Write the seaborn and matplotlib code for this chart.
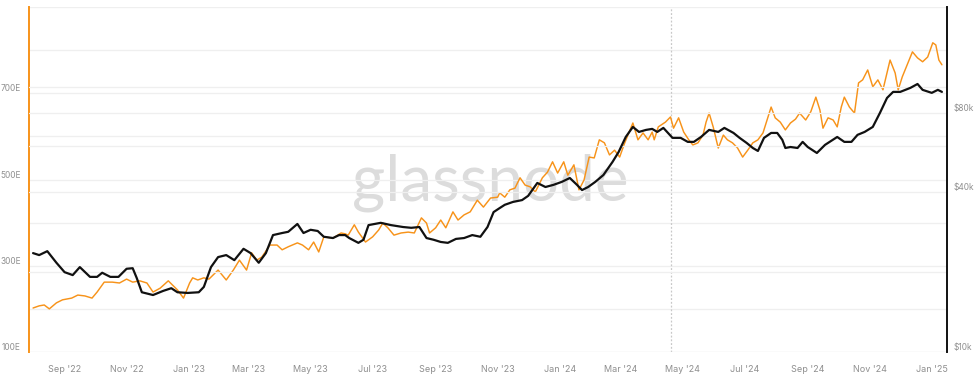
import matplotlib
matplotlib.use("Agg")
import matplotlib.pyplot as plt
import matplotlib.ticker as mticker
import seaborn as sns
import pandas as pd

# ---------------- data ----------------
hash_dates = [
    "2022-08-01", "2022-08-07", "2022-08-12", "2022-08-17", "2022-08-24", "2022-08-30",
    "2022-09-08", "2022-09-14", "2022-09-21", "2022-09-28", "2022-10-03", "2022-10-10",
    "2022-10-18", "2022-10-25", "2022-11-01", "2022-11-07", "2022-11-14", "2022-11-21",
    "2022-11-27", "2022-12-04", "2022-12-12", "2022-12-21", "2022-12-27", "2023-01-02",
    "2023-01-05", "2023-01-10", "2023-01-16", "2023-01-21", "2023-01-30", "2023-02-07",
    "2023-02-14", "2023-02-20", "2023-02-27", "2023-03-04", "2023-03-09", "2023-03-14",
    "2023-03-22", "2023-03-29", "2023-04-03", "2023-04-09", "2023-04-18", "2023-04-23",
    "2023-04-29", "2023-05-04", "2023-05-09", "2023-05-14", "2023-05-23", "2023-05-31",
    "2023-06-04", "2023-06-07", "2023-06-13", "2023-06-17", "2023-06-24", "2023-07-01",
    "2023-07-07", "2023-07-11", "2023-07-16", "2023-07-22", "2023-07-29", "2023-08-05",
    "2023-08-11", "2023-08-18", "2023-08-23", "2023-08-26", "2023-09-01", "2023-09-06",
    "2023-09-11", "2023-09-18", "2023-09-23", "2023-09-29", "2023-10-05", "2023-10-12",
    "2023-10-18", "2023-10-25", "2023-11-01", "2023-11-03", "2023-11-08", "2023-11-13",
    "2023-11-18", "2023-11-23", "2023-11-28", "2023-12-03", "2023-12-08", "2023-12-15",
    "2023-12-20", "2023-12-25", "2023-12-30", "2024-01-05", "2024-01-09", "2024-01-15",
    "2024-01-20", "2024-01-25", "2024-01-30", "2024-02-04", "2024-02-09", "2024-02-14",
    "2024-02-19", "2024-02-24", "2024-02-29", "2024-03-05", "2024-03-09", "2024-03-13",
    "2024-03-18", "2024-03-23", "2024-03-28", "2024-04-01", "2024-04-03", "2024-04-07",
    "2024-04-14", "2024-04-19", "2024-04-22", "2024-04-27", "2024-05-02", "2024-05-07",
    "2024-05-11", "2024-05-16", "2024-05-21", "2024-05-24", "2024-05-27", "2024-05-31",
    "2024-06-05", "2024-06-10", "2024-06-14", "2024-06-19", "2024-06-24", "2024-06-29",
    "2024-07-04", "2024-07-09", "2024-07-14", "2024-07-19", "2024-07-24", "2024-07-27",
    "2024-07-31", "2024-08-05", "2024-08-10", "2024-08-15", "2024-08-20", "2024-08-24",
    "2024-08-30", "2024-09-04", "2024-09-09", "2024-09-13", "2024-09-16", "2024-09-21",
    "2024-09-26", "2024-09-30", "2024-10-04", "2024-10-07", "2024-10-12", "2024-10-17",
    "2024-10-21", "2024-10-25", "2024-10-30", "2024-11-04", "2024-11-09", "2024-11-14",
    "2024-11-21", "2024-11-26", "2024-11-29", "2024-12-03", "2024-12-07", "2024-12-13",
    "2024-12-18", "2024-12-23", "2024-12-28", "2025-01-02", "2025-01-05", "2025-01-08",
    "2025-01-11",
]
hash_values = [
    202, 207, 209, 200, 214, 221,
    225, 232, 230, 225, 239, 262,
    262, 260, 269, 262, 265, 260,
    239, 248, 265, 244, 225, 260,
    272, 267, 272, 269, 290, 267,
    290, 313, 290, 330, 313, 320,
    348, 348, 337, 344, 353, 348,
    337, 355, 332, 367, 364, 376,
    374, 371, 395, 378, 355, 367,
    383, 399, 388, 371, 376, 378,
    376, 411, 399, 376, 388, 406,
    388, 425, 406, 418, 425, 452,
    436, 457, 459, 469, 459, 476,
    480, 504, 487, 483, 471, 504,
    517, 541, 515, 541, 510, 534,
    476, 499, 552, 550, 592, 585,
    557, 568, 552, 585, 608, 631,
    592, 608, 592, 610, 592, 622,
    633, 645, 619, 643, 610, 592,
    580, 585, 603, 633, 654, 622,
    573, 603, 592, 585, 573, 552,
    568, 585, 592, 608, 645, 668,
    643, 633, 615, 631, 640, 654,
    638, 657, 691, 661, 619, 643,
    638, 622, 668, 691, 668, 654,
    724, 731, 754, 715, 731, 708,
    777, 747, 708, 738, 761, 796,
    782, 773, 784, 817, 812, 777,
    766,
]

price_dates = [
    "2022-08-01", "2022-08-07", "2022-08-15", "2022-08-24", "2022-09-01", "2022-09-09",
    "2022-09-16", "2022-09-26", "2022-10-03", "2022-10-08", "2022-10-16", "2022-10-24",
    "2022-11-01", "2022-11-07", "2022-11-11", "2022-11-16", "2022-11-27", "2022-12-07",
    "2022-12-15", "2022-12-21", "2022-12-31", "2023-01-11", "2023-01-16", "2023-01-23",
    "2023-01-30", "2023-02-07", "2023-02-15", "2023-02-24", "2023-03-03", "2023-03-11",
    "2023-03-18", "2023-03-25", "2023-04-03", "2023-04-09", "2023-04-18", "2023-04-24",
    "2023-05-01", "2023-05-08", "2023-05-14", "2023-05-23", "2023-05-29", "2023-06-04",
    "2023-06-08", "2023-06-17", "2023-06-22", "2023-06-27", "2023-07-09", "2023-07-19",
    "2023-07-31", "2023-08-08", "2023-08-16", "2023-08-23", "2023-08-30", "2023-09-06",
    "2023-09-13", "2023-09-21", "2023-09-29", "2023-10-07", "2023-10-15", "2023-10-22",
    "2023-10-28", "2023-11-03", "2023-11-08", "2023-11-16", "2023-11-25", "2023-12-01",
    "2023-12-10", "2023-12-18", "2023-12-26", "2024-01-03", "2024-01-11", "2024-01-18",
    "2024-01-23", "2024-01-29", "2024-02-05", "2024-02-13", "2024-02-22", "2024-02-28",
    "2024-03-06", "2024-03-13", "2024-03-19", "2024-03-26", "2024-04-01", "2024-04-06",
    "2024-04-12", "2024-04-21", "2024-04-29", "2024-05-06", "2024-05-12", "2024-05-19",
    "2024-05-27", "2024-06-05", "2024-06-11", "2024-06-20", "2024-06-26", "2024-07-03",
    "2024-07-09", "2024-07-14", "2024-07-20", "2024-07-27", "2024-08-02", "2024-08-07",
    "2024-08-10", "2024-08-15", "2024-08-22", "2024-08-27", "2024-09-01", "2024-09-10",
    "2024-09-18", "2024-09-30", "2024-10-07", "2024-10-14", "2024-10-20", "2024-10-27",
    "2024-11-04", "2024-11-11", "2024-11-18", "2024-11-24", "2024-12-01", "2024-12-11",
    "2024-12-18", "2024-12-23", "2025-01-01", "2025-01-07", "2025-01-11",
]
price_values = [
    23600, 23200, 24000, 21700, 20000, 19500,
    20900, 19200, 19200, 19900, 19200, 19200,
    20600, 20700, 19000, 16800, 16400, 17000,
    17400, 16800, 16700, 16800, 17600, 20900,
    22800, 23200, 22200, 24500, 23600, 21700,
    23600, 27600, 28100, 28400, 30400, 28100,
    28900, 28600, 27200, 26900, 27600, 27600,
    26900, 25800, 26500, 30100, 30700, 30100,
    29600, 29400, 29600, 26900, 26500, 26000,
    25800, 26700, 26900, 27600, 27200, 29600,
    33700, 34900, 35900, 36800, 37400, 38800,
    43400, 41900, 42700, 43800, 45300, 42700,
    40800, 41900, 43800, 46500, 52100, 56800,
    64700, 70600, 67600, 68800, 69400, 67600,
    70000, 64200, 64200, 62000, 62000, 64700,
    68800, 67600, 70000, 67000, 64200, 61400,
    58800, 57300, 64200, 67000, 67000, 63100,
    58800, 59300, 58800, 62000, 59300, 56300,
    60400, 64700, 62000, 62000, 65900, 67600,
    70600, 79700, 90800, 95700, 95700, 99100,
    102500, 97400, 94900, 97400, 95700,
]

left_ticks = [100, 200, 300, 400, 500, 600, 700, 800, 900]
left_labels = ["100E", "", "300E", "", "500E", "", "700E", "", ""]
right_ticks = [10000, 20000, 40000, 60000, 80000, 100000]
right_labels = ["$10k", "", "$40k", "", "$80k", ""]
x_tick_dates = ["2022-09-01", "2022-11-01", "2023-01-01", "2023-03-01", "2023-05-01",
                "2023-07-01", "2023-09-01", "2023-11-01", "2024-01-01", "2024-03-01",
                "2024-05-01", "2024-07-01", "2024-09-01", "2024-11-01", "2025-01-01"]
x_tick_labels = ["Sep '22", "Nov '22", "Jan '23", "Mar '23", "May '23", "Jul '23",
                 "Sep '23", "Nov '23", "Jan '24", "Mar '24", "May '24", "Jul '24",
                 "Sep '24", "Nov '24", "Jan '25"]
halving_date = "2024-04-20"

# ---------------- styling ----------------
sns.set_style("white")
plt.rcParams["font.family"] = ["Inter", "DejaVu Sans"]

ORANGE = "#f7931a"
BLACK = "#111111"
GRID = "#efefef"
LABEL = "#8f8f8f"

hash_df = pd.DataFrame({"date": pd.to_datetime(hash_dates), "value": hash_values})
price_df = pd.DataFrame({"date": pd.to_datetime(price_dates), "price": price_values})

fig = plt.figure(figsize=(9.74, 3.77), dpi=100)
ax = fig.add_axes([29 / 974, 1 - 352 / 377, (947 - 29) / 974, 345 / 377])
ax2 = ax.twinx()

# watermark
ax.text(0.503, 0.49, "glassnode", transform=ax.transAxes, ha="center", va="center",
        fontsize=46, color="#dcdcdc", family=["Lato", "DejaVu Sans"],
        fontweight="normal", zorder=0)

sns.lineplot(data=hash_df, x="date", y="value", ax=ax, color=ORANGE, linewidth=1.05,
             zorder=3)
sns.lineplot(data=price_df, x="date", y="price", ax=ax2, color=BLACK, linewidth=1.6,
             zorder=4)
for line in ax2.get_lines() + ax.get_lines():
    line.set_solid_joinstyle("round")

ax.axvline(pd.Timestamp(halving_date), color="#c8c8c8", linewidth=0.9,
           linestyle=(0, (1.5, 1.5)), zorder=1)

ax.set_xlim(pd.Timestamp("2022-07-28"), pd.Timestamp("2025-01-16"))
ax.set_ylim(100, 900)
ax2.set_yscale("log")
ax2.set_ylim(10000, 200000)

ax.set_yticks(left_ticks)
ax.set_yticklabels(left_labels)
ax2.yaxis.set_major_locator(mticker.FixedLocator(right_ticks))
ax2.yaxis.set_minor_locator(mticker.NullLocator())
ax2.set_yticklabels(right_labels)

ax.set_xticks(pd.to_datetime(x_tick_dates))
ax.set_xticklabels(x_tick_labels)

ax.grid(axis="y", color=GRID, linewidth=0.9, zorder=0)
ax2.grid(axis="y", color=GRID, linewidth=0.9)
ax.set_axisbelow(True)

ax.tick_params(axis="y", length=0, labelsize=6, labelcolor=LABEL, pad=6)
ax2.tick_params(axis="y", length=0, labelsize=6, labelcolor=LABEL, pad=5)
ax.tick_params(axis="x", length=0, labelsize=6.5, labelcolor=LABEL, pad=9)
for lbl in ax.get_yticklabels() + ax2.get_yticklabels():
    lbl.set_va("bottom")

for a in (ax, ax2):
    for s in ("top", "bottom"):
        a.spines[s].set_visible(False)
ax.spines["right"].set_visible(False)
ax2.spines["left"].set_visible(False)
ax.spines["left"].set_color(ORANGE)
ax.spines["left"].set_linewidth(1.4)
ax2.spines["right"].set_color(BLACK)
ax2.spines["right"].set_linewidth(1.4)

ax.set_xlabel("")
ax.set_ylabel("")
ax2.set_ylabel("")
if ax.get_legend():
    ax.get_legend().remove()

fig.savefig("out.png", dpi=100, facecolor="white")
